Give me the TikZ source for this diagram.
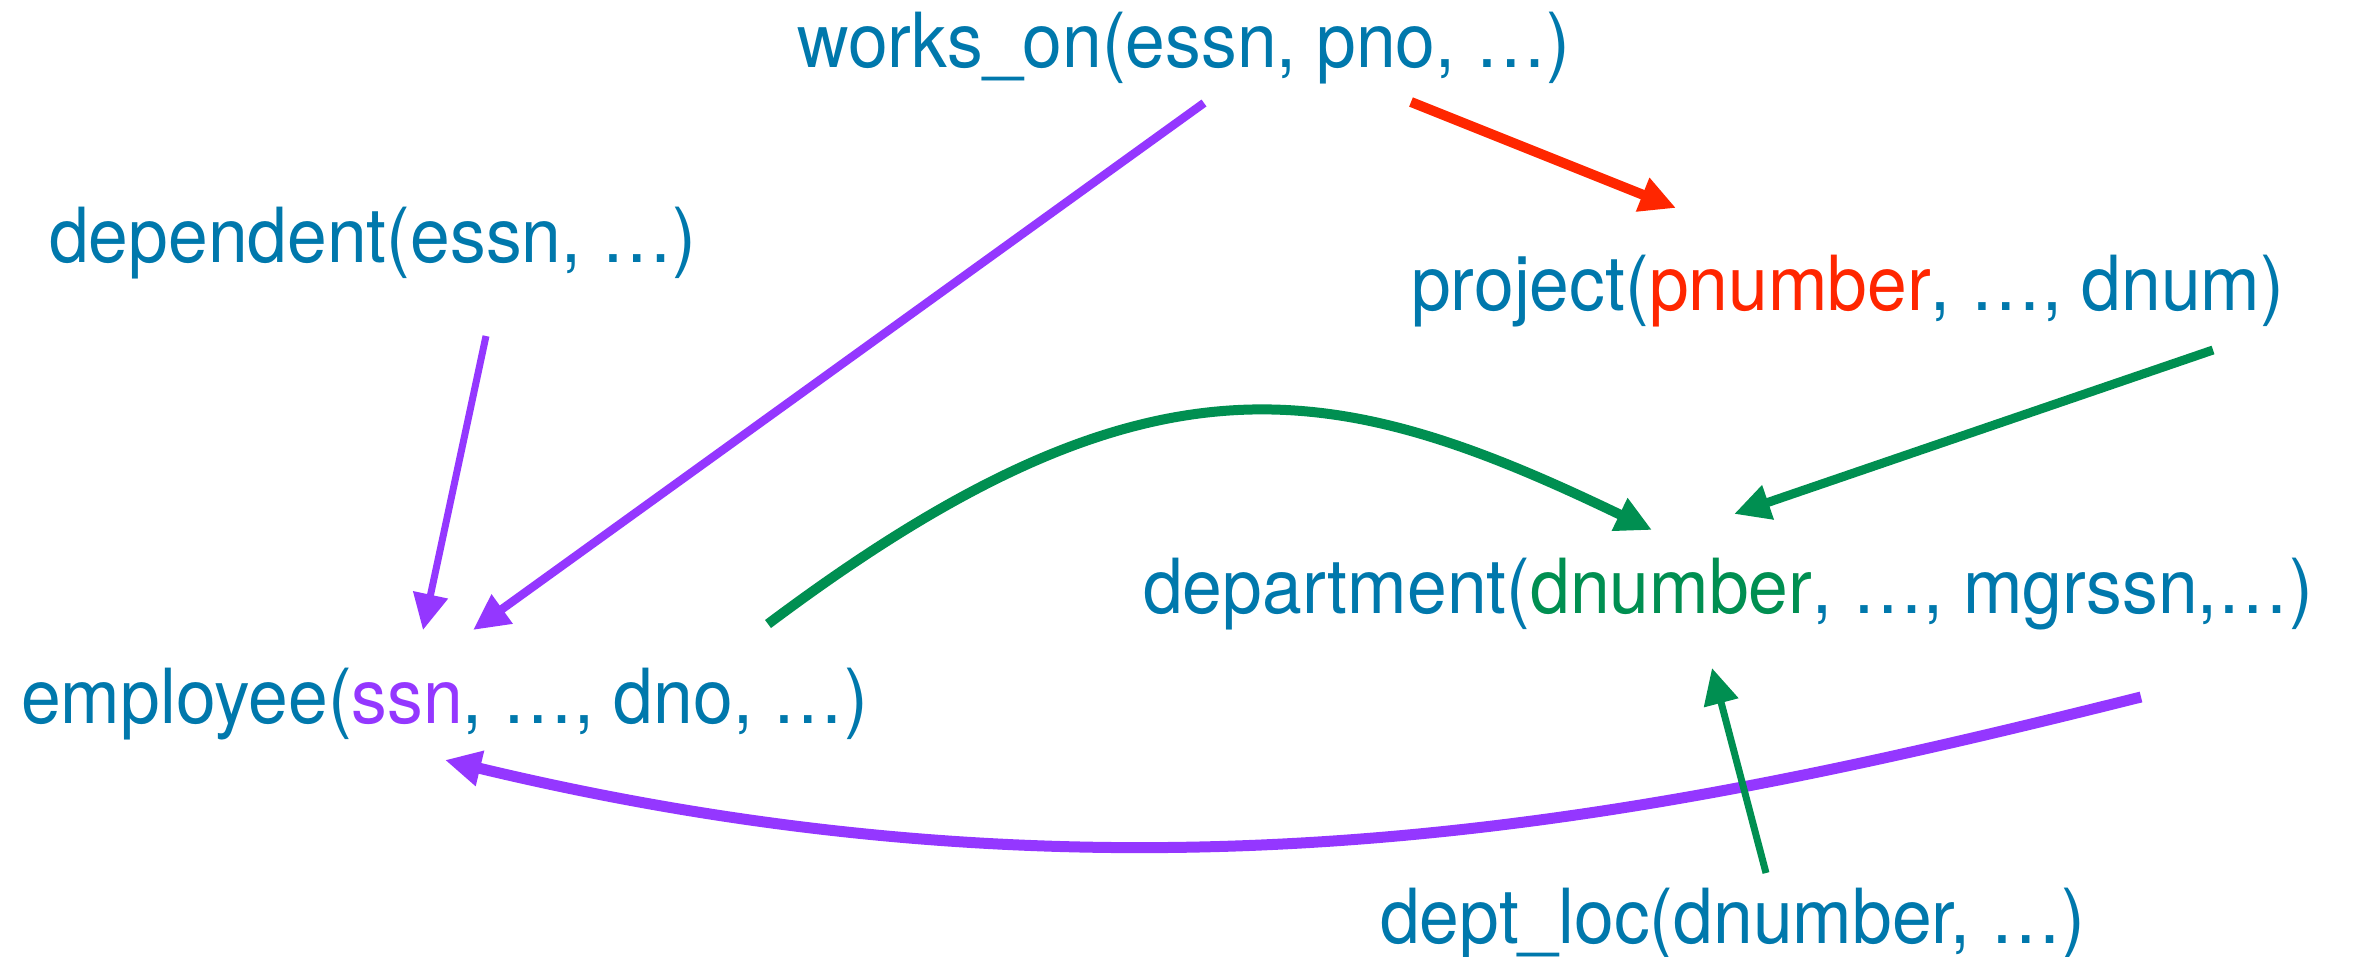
\documentclass[tikz,border=0pt]{standalone}
\usepackage{fontspec}
\setmainfont{TeX Gyre Heros}[FakeStretch=0.94]
\usetikzlibrary{arrows.meta}

\definecolor{ink}{RGB}{0,120,172}
\definecolor{keyred}{RGB}{255,38,0}
\definecolor{keygreen}{RGB}{0,143,81}
\definecolor{keypurple}{RGB}{148,55,255}

\begin{document}
\begin{tikzpicture}[
  x=1pt, y=-1pt,
  lbl/.style={inner sep=0pt, anchor=base west, text=ink,
              font=\fontsize{76}{80}\selectfont},
  link/.style={-{Triangle[length=36pt,width=34pt]}, line cap=butt},
  fk/.style={link, draw=keypurple},
  pk/.style={link, draw=keygreen},
  pj/.style={link, draw=keyred},
]
\useasboundingbox (0,0) rectangle (2355,956);

% relations
\node[lbl] (works)      at (797,67)   {works\_on(essn, pno, …)};
\node[lbl] (dependent)  at (49,262)   {dependent(essn, …)};
\node[lbl] (project)    at (1411,310) {project(\textcolor{keyred}{pnumber}, …, dnum)};
\node[lbl] (department) at (1143,613) {department(\textcolor{keygreen}{dnumber}, …, mgrssn,…)};
\node[lbl] (employee)   at (21,723)   {employee(\textcolor{keypurple}{ssn}, …, dno, …)};
\node[lbl] (deptloc)    at (1380,943) {dept\_loc(dnumber, …)};

% connector end points
\coordinate (works-essn)  at (1204,103);
\coordinate (works-pno)   at (1411,102);
\coordinate (dep-essn)    at (486,336);
\coordinate (proj-dnum)   at (2213,350);
\coordinate (emp-dno)     at (768,624);
\coordinate (dept-mgr)    at (2141,697);
\coordinate (loc-dnum)    at (1766,873);
\coordinate (emp-ssn-a)   at (423,630);
\coordinate (emp-ssn-b)   at (473,630);
\coordinate (emp-ssn-c)   at (445,760);
\coordinate (proj-key)    at (1676,208);
\coordinate (dept-key-a)  at (1652,530);
\coordinate (dept-key-b)  at (1734,514);
\coordinate (dept-key-c)  at (1712,668);

% foreign keys referencing employee.ssn
\draw[fk, line width=8.5pt] (works-essn) -- (emp-ssn-b);
\draw[fk, line width=7pt] (dep-essn) -- (emp-ssn-a);
\draw[fk, line width=11pt] (dept-mgr)
  .. controls (1661,817) and (1145,928) .. (emp-ssn-c);

% foreign key referencing project.pnumber
\draw[pj, line width=10pt] (works-pno) -- (proj-key);

% foreign keys referencing department.dnumber
\draw[pk, line width=9pt] (proj-dnum) -- (dept-key-b);
\draw[pk, line width=10pt] (emp-dno)
  .. controls (1148,339) and (1332,376) .. (dept-key-a);
\draw[pk, line width=7pt] (loc-dnum) -- (dept-key-c);
\end{tikzpicture}
\end{document}
